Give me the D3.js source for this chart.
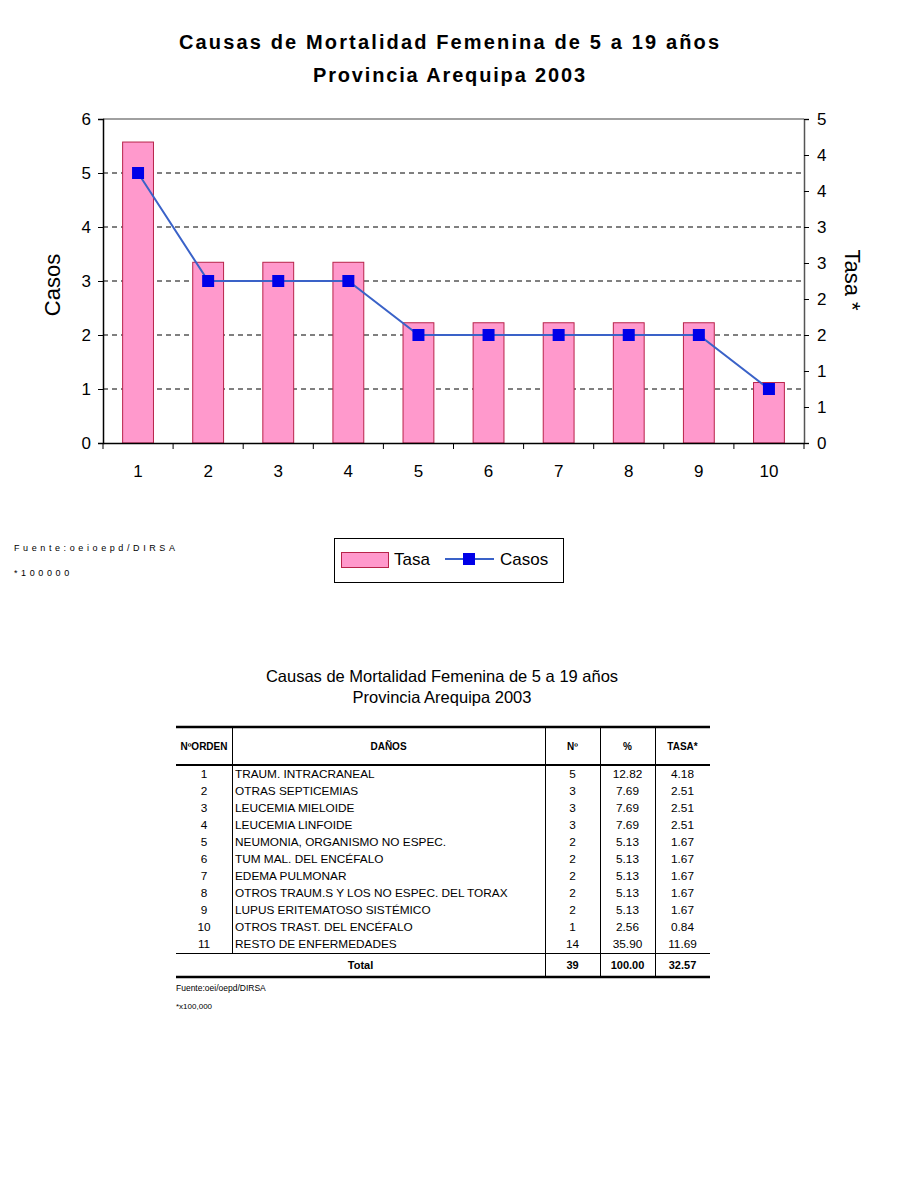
<!DOCTYPE html>
<html>
  <head>
    <meta charset="utf-8" />
    <title>Causas de Mortalidad Femenina de 5 a 19 años</title>
    <script src="https://d3js.org/d3.v7.min.js"></script>
    <style>
      body { margin: 0; background: #fff; }
      text { font-family: "Liberation Sans", Arial, sans-serif; }
    </style>
  </head>
  <body>
    <svg width="900" height="1200"></svg>
    <script>
      // datos del grafico
      var categorias = [1, 2, 3, 4, 5, 6, 7, 8, 9, 10];
      var tasa = [4.18, 2.51, 2.51, 2.51, 1.67, 1.67, 1.67, 1.67, 1.67, 0.84];
      var casos = [5, 3, 3, 3, 2, 2, 2, 2, 2, 1];
      var casosTicks = [0, 1, 2, 3, 4, 5, 6];
      var tasaTicks = [0, 0.5, 1, 1.5, 2, 2.5, 3, 3.5, 4, 4.5];
      var tasaTickLabels = ["0", "1", "1", "2", "2", "3", "3", "4", "4", "5"];

      // datos de la tabla
      var orden = [1, 2, 3, 4, 5, 6, 7, 8, 9, 10, 11];
      var danos = [
        "TRAUM. INTRACRANEAL",
        "OTRAS SEPTICEMIAS",
        "LEUCEMIA MIELOIDE",
        "LEUCEMIA LINFOIDE",
        "NEUMONIA, ORGANISMO NO ESPEC.",
        "TUM MAL. DEL ENCÉFALO",
        "EDEMA PULMONAR",
        "OTROS TRAUM.S Y LOS NO ESPEC. DEL TORAX",
        "LUPUS ERITEMATOSO SISTÉMICO",
        "OTROS TRAST. DEL ENCÉFALO",
        "RESTO DE ENFERMEDADES",
      ];
      var numero = ["5", "3", "3", "3", "2", "2", "2", "2", "2", "1", "14"];
      var porcentaje = ["12.82", "7.69", "7.69", "7.69", "5.13", "5.13", "5.13", "5.13", "5.13", "2.56", "35.90"];
      var tasaTabla = ["4.18", "2.51", "2.51", "2.51", "1.67", "1.67", "1.67", "1.67", "1.67", "0.84", "11.69"];
      var totales = ["39", "100.00", "32.57"];

      var svg = d3.select("svg");

      var x = d3.scaleBand().domain(categorias).range([103, 804]).padding(0);
      var yCasos = d3.scaleLinear().domain([0, 6]).range([443, 119]);
      var yTasa = d3.scaleLinear().domain([0, 4.5]).range([443, 119]);

      // titulo
      svg.append("text")
        .attr("x", 449).attr("y", 49)
        .attr("text-anchor", "middle")
        .attr("font-size", 20).attr("font-weight", "bold")
        .attr("textLength", 540).attr("lengthAdjust", "spacing")
        .text("Causas de Mortalidad  Femenina de 5 a 19 años");
      svg.append("text")
        .attr("x", 449).attr("y", 82)
        .attr("text-anchor", "middle")
        .attr("font-size", 20).attr("font-weight", "bold")
        .attr("textLength", 272).attr("lengthAdjust", "spacing")
        .text("Provincia Arequipa 2003");

      // lineas de cuadricula
      svg.selectAll(".grid")
        .data(casosTicks.filter(function (d) { return d > 0 && d < 6; }))
        .enter().append("line")
        .attr("x1", 103).attr("x2", 804)
        .attr("y1", function (d) { return yCasos(d); })
        .attr("y2", function (d) { return yCasos(d); })
        .attr("stroke", "#000").attr("stroke-dasharray", "5,4");

      svg.append("line")
        .attr("x1", 103).attr("x2", 804)
        .attr("y1", yCasos(6)).attr("y2", yCasos(6))
        .attr("stroke", "#808080").attr("stroke-width", 1.5);

      // barras (tasa)
      var bw = x.bandwidth() * 0.44;
      svg.selectAll(".bar")
        .data(categorias)
        .enter().append("rect")
        .attr("x", function (d) { return x(d) + (x.bandwidth() - bw) / 2; })
        .attr("y", function (d, i) { return yTasa(tasa[i]); })
        .attr("width", bw)
        .attr("height", function (d, i) { return 443 - yTasa(tasa[i]); })
        .attr("fill", "#FF99CC")
        .attr("stroke", "#B8234A");

      // ejes
      var axisLeft = d3.axisLeft(yCasos).tickValues(casosTicks).tickFormat(d3.format("d"))
        .tickSize(5).tickPadding(7);
      var gL = svg.append("g").attr("transform", "translate(103,0)").call(axisLeft);
      gL.select(".domain").attr("stroke", "#000").attr("stroke-width", 1.5);
      gL.selectAll("text").attr("font-size", 17).attr("font-family", "Liberation Sans, Arial").attr("fill", "#000");

      var axisRight = d3.axisRight(yTasa).tickValues(tasaTicks)
        .tickFormat(function (d, i) { return tasaTickLabels[i]; })
        .tickSize(5).tickPadding(8);
      var gR = svg.append("g").attr("transform", "translate(804,0)").call(axisRight);
      gR.select(".domain").attr("stroke", "#555").attr("stroke-width", 1.5);
      gR.selectAll("text").attr("font-size", 17).attr("font-family", "Liberation Sans, Arial").attr("fill", "#000");

      var axisBottom = d3.axisBottom(x).tickSize(0).tickPadding(22);
      var gB = svg.append("g").attr("transform", "translate(0,443)").call(axisBottom);
      gB.select(".domain").attr("stroke", "#000").attr("stroke-width", 1.5);
      gB.selectAll("text").attr("font-size", 17).attr("font-family", "Liberation Sans, Arial").attr("fill", "#000");
      gB.selectAll(".sep")
        .data(categorias.concat([11]))
        .enter().append("line")
        .attr("x1", function (d) { return d === 11 ? 804 : x(d); })
        .attr("x2", function (d) { return d === 11 ? 804 : x(d); })
        .attr("y1", 0).attr("y2", 6)
        .attr("stroke", "#000");

      // titulos de ejes
      svg.append("text")
        .attr("transform", "translate(60,285) rotate(-90)")
        .attr("text-anchor", "middle")
        .attr("font-size", 22)
        .text("Casos");
      svg.append("text")
        .attr("transform", "translate(845,280) rotate(90)")
        .attr("text-anchor", "middle")
        .attr("font-size", 22)
        .text("Tasa *");

      // linea (casos)
      var line = d3.line()
        .x(function (d) { return x(d) + x.bandwidth() / 2; })
        .y(function (d, i) { return yCasos(casos[i]); });
      svg.append("path")
        .datum(categorias)
        .attr("d", line)
        .attr("fill", "none")
        .attr("stroke", "#3A62C8")
        .attr("stroke-width", 2);
      svg.selectAll(".mk")
        .data(categorias)
        .enter().append("rect")
        .attr("x", function (d) { return x(d) + x.bandwidth() / 2 - 6; })
        .attr("y", function (d, i) { return yCasos(casos[i]) - 6; })
        .attr("width", 12).attr("height", 12)
        .attr("fill", "#0000E8");

      // leyenda
      var lg = svg.append("g");
      lg.append("rect").attr("x", 334.5).attr("y", 538.5).attr("width", 229).attr("height", 44)
        .attr("fill", "#fff").attr("stroke", "#000");
      lg.append("rect").attr("x", 341.5).attr("y", 552.5).attr("width", 47).attr("height", 15)
        .attr("fill", "#FF99CC").attr("stroke", "#B8234A");
      lg.append("text").attr("x", 394).attr("y", 565).attr("font-size", 17).text("Tasa");
      lg.append("line").attr("x1", 445).attr("x2", 494).attr("y1", 559).attr("y2", 559)
        .attr("stroke", "#3A62C8").attr("stroke-width", 2);
      lg.append("rect").attr("x", 463).attr("y", 553).attr("width", 12).attr("height", 12).attr("fill", "#0000E8");
      lg.append("text").attr("x", 500).attr("y", 565).attr("font-size", 17).text("Casos");

      // notas
      svg.append("text").attr("x", 14).attr("y", 551).attr("font-size", 9)
        .attr("letter-spacing", 3.6).text("Fuente:oeioepd/DIRSA");
      svg.append("text").attr("x", 14).attr("y", 576).attr("font-size", 9)
        .attr("letter-spacing", 3.6).text("*100000");

      // tabla
      svg.append("text").attr("x", 442).attr("y", 682).attr("text-anchor", "middle")
        .attr("font-size", 16.5).text("Causas de Mortalidad Femenina de 5 a 19 años");
      svg.append("text").attr("x", 442).attr("y", 703).attr("text-anchor", "middle")
        .attr("font-size", 16.5).text("Provincia Arequipa 2003");

      var tL = 176, tR = 710;
      var colSep = [232, 545, 600, 655];
      var rowY = d3.scaleLinear().domain([0, 10]).range([774, 944]);

      svg.append("line").attr("x1", tL).attr("x2", tR).attr("y1", 727).attr("y2", 727)
        .attr("stroke", "#000").attr("stroke-width", 2.5);
      svg.append("line").attr("x1", tL).attr("x2", tR).attr("y1", 765).attr("y2", 765)
        .attr("stroke", "#000").attr("stroke-width", 2);
      svg.append("line").attr("x1", tL).attr("x2", tR).attr("y1", 953.5).attr("y2", 953.5)
        .attr("stroke", "#000").attr("stroke-width", 1);
      svg.append("line").attr("x1", tL).attr("x2", tR).attr("y1", 977).attr("y2", 977)
        .attr("stroke", "#000").attr("stroke-width", 2.5);
      colSep.forEach(function (c, i) {
        svg.append("line").attr("x1", c + 0.5).attr("x2", c + 0.5)
          .attr("y1", 727).attr("y2", i === 0 ? 953 : 977)
          .attr("stroke", "#000");
      });

      var header = [
        { t: "NºORDEN", x: (tL + colSep[0]) / 2 },
        { t: "DAÑOS", x: (colSep[0] + colSep[1]) / 2 },
        { t: "Nº", x: (colSep[1] + colSep[2]) / 2 },
        { t: "%", x: (colSep[2] + colSep[3]) / 2 },
        { t: "TASA*", x: (colSep[3] + tR) / 2 },
      ];
      svg.selectAll(".hd").data(header).enter().append("text")
        .attr("x", function (d) { return d.x; }).attr("y", 750)
        .attr("text-anchor", "middle").attr("font-size", 10).attr("font-weight", "bold")
        .text(function (d) { return d.t; });

      var rows = svg.selectAll(".row").data(orden).enter().append("g")
        .attr("transform", function (d, i) { return "translate(0," + (rowY(i) + 4) + ")"; })
        .attr("font-size", 11.8);
      rows.append("text").attr("x", (tL + colSep[0]) / 2).attr("text-anchor", "middle")
        .text(function (d) { return d; });
      rows.append("text").attr("x", colSep[0] + 3)
        .text(function (d, i) { return danos[i]; });
      rows.append("text").attr("x", (colSep[1] + colSep[2]) / 2).attr("text-anchor", "middle")
        .text(function (d, i) { return numero[i]; });
      rows.append("text").attr("x", (colSep[2] + colSep[3]) / 2).attr("text-anchor", "middle")
        .text(function (d, i) { return porcentaje[i]; });
      rows.append("text").attr("x", (colSep[3] + tR) / 2).attr("text-anchor", "middle")
        .text(function (d, i) { return tasaTabla[i]; });

      svg.append("text").attr("x", (tL + colSep[1]) / 2).attr("y", 969)
        .attr("text-anchor", "middle").attr("font-size", 11).attr("font-weight", "bold").text("Total");
      [(colSep[1] + colSep[2]) / 2, (colSep[2] + colSep[3]) / 2, (colSep[3] + tR) / 2].forEach(function (cx, i) {
        svg.append("text").attr("x", cx).attr("y", 969)
          .attr("text-anchor", "middle").attr("font-size", 11).attr("font-weight", "bold").text(totales[i]);
      });

      svg.append("text").attr("x", 176).attr("y", 991).attr("font-size", 8.5).text("Fuente:oei/oepd/DIRSA");
      svg.append("text").attr("x", 176).attr("y", 1009).attr("font-size", 8).text("*x100,000");
    </script>
  </body>
</html>
